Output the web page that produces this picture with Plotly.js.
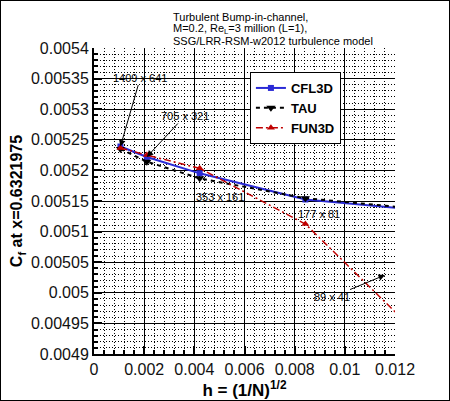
<!DOCTYPE html>
<html>
<head>
<meta charset="utf-8">
<script src="https://cdn.plot.ly/plotly-3.0.1.min.js"></script>
<style>
  html, body { margin: 0; padding: 0; background: #fff; }
  #chart { width: 450px; height: 401px; box-sizing: border-box; border: 1px solid #000; }
</style>
</head>
<body>
<div id="chart"></div>
<script>
// grid spacing h = (1/N)^(1/2) for the five grid levels
const h = [0.0010534, 0.0021069, 0.0042137, 0.008427, 0.016855];

// Cf at x=0.6321975
const cfl3d = [0.005239, 0.005222, 0.0051952, 0.0051525, 0.0051206];
const tau = [0.005235, 0.0052143, 0.005187, 0.0051545, 0.005122];
const fun3d = [0.0052366, 0.005225, 0.0052034, 0.0051124, 0.0047742];

const gridLabels = ["1409 x 641", "705 x 321", "353 x 161", "177 x 81", "89 x 41"];
const titleLines = [
  "Turbulent Bump-in-channel,",
  "M=0.2, Re<sub>L</sub>=3 million (L=1),",
  "SSG/LRR-RSM-w2012 turbulence model",
];

const xTicks = [0, 0.002, 0.004, 0.006, 0.008, 0.01, 0.012];
const xTickText = ["0", "0.002", "0.004", "0.006", "0.008", "0.01", "0.012"];
const yTicks = [0.0049, 0.00495, 0.005, 0.00505, 0.0051, 0.00515, 0.0052, 0.00525, 0.0053, 0.00535, 0.0054];
const yTickText = ["0.0049", "0.00495", "0.005", "0.00505", "0.0051", "0.00515", "0.0052", "0.00525", "0.0053", "0.00535", "0.0054"];

const FONT = "Liberation Sans, Arial, Helvetica, sans-serif";

let traces = [
  {
    x: h, y: cfl3d, name: "CFL3D",
    mode: "lines+markers", type: "scatter",
    line: { color: "#2a2ad6", width: 2 },
    marker: { symbol: "square", size: 6, color: "#2a2ad6" },
  },
  {
    x: h, y: tau, name: "TAU",
    mode: "lines+markers", type: "scatter",
    line: { color: "#000000", width: 2, dash: "4px,4px" },
    marker: { symbol: "triangle-down", size: 8, color: "#000000" },
  },
  {
    x: h, y: fun3d, name: "FUN3D",
    mode: "lines+markers", type: "scatter",
    line: { color: "#c00000", width: 1.5, dash: "7px,3px,2px,3px" },
    marker: { symbol: "triangle-up", size: 7, color: "#c00000" },
  },
];

const labelFont = { family: FONT, size: 11, color: "#000" };
const arrowStyle = { arrowhead: 2, arrowsize: 1.3, arrowwidth: 1, arrowcolor: "#000" };

let annotations = [
  { x: h[0], y: cfl3d[0], text: gridLabels[0], showarrow: true, ax: 20, ay: -69, ...arrowStyle, font: labelFont },
  { x: h[1], y: cfl3d[1], text: gridLabels[1], showarrow: true, ax: 38, ay: -41, ...arrowStyle, font: labelFont },
  { x: 0.005023, y: 0.0051565, text: gridLabels[2], showarrow: false, font: labelFont },
  { x: 0.00897, y: 0.0051288, text: gridLabels[3], showarrow: false, font: labelFont },
  { x: 0.0116, y: 0.005029, text: gridLabels[4], showarrow: true, ax: -53, ay: 22, ...arrowStyle, font: labelFont },
];
titleLines.forEach((t, i) => {
  annotations.push({
    xref: "paper", yref: "paper",
    x: 0.255, y: 1 + (31 - i * 12) / 306,
    xanchor: "left", yanchor: "middle",
    text: t, showarrow: false,
    font: { family: FONT, size: 11, color: "#000" },
  });
});

let layout = {
  width: 448,
  height: 399,
  margin: { l: 93, r: 54, t: 47, b: 46 },
  paper_bgcolor: "#fff",
  plot_bgcolor: "#fff",
  font: { family: FONT, color: "#000" },
  showlegend: true,
  legend: {
    x: 0.518, y: 0.9216, xanchor: "left", yanchor: "top",
    bgcolor: "#fff", bordercolor: "#000", borderwidth: 1,
    font: { family: FONT, size: 13, color: "#000", weight: "bold" },
    tracegroupgap: 0,
  },
  xaxis: {
    range: [0, 0.012],
    tickvals: xTicks, ticktext: xTickText,
    tickfont: { family: FONT, size: 16, color: "#111" },
    ticks: "inside", ticklen: 8, tickwidth: 2, tickcolor: "#000",
    showline: true, linecolor: "#000", linewidth: 2,
    showgrid: true, gridcolor: "#000", gridwidth: 1,
    zeroline: false,
    minor: {
      dtick: 0.0004, ticks: "inside", ticklen: 4, tickcolor: "#000",
      showgrid: true, gridcolor: "#000", gridwidth: 1, griddash: "1px,2px",
    },
    title: {
      text: "<b>h = (1/N)<sup>1/2</sup></b>",
      font: { family: FONT, size: 17, color: "#000" },
      standoff: 8,
    },
  },
  yaxis: {
    range: [0.0049, 0.0054],
    tickvals: yTicks, ticktext: yTickText,
    tickfont: { family: FONT, size: 16, color: "#111" },
    ticks: "inside", ticklen: 8, tickwidth: 2, tickcolor: "#000",
    showline: true, linecolor: "#000", linewidth: 2,
    showgrid: true, gridcolor: "#000", gridwidth: 1,
    zeroline: false,
    minor: {
      dtick: 0.00001, ticks: "inside", ticklen: 4, tickcolor: "#000",
      showgrid: true, gridcolor: "#000", gridwidth: 1, griddash: "1px,2px",
    },
    title: {
      text: "<b>C<sub>f</sub> at x=0.6321975</b>",
      font: { family: FONT, size: 16, color: "#000" },
      standoff: 4,
    },
  },
  annotations: annotations,
};

let config = { displayModeBar: false, staticPlot: true };
Plotly.newPlot("chart", traces, layout, config);
</script>
</body>
</html>
